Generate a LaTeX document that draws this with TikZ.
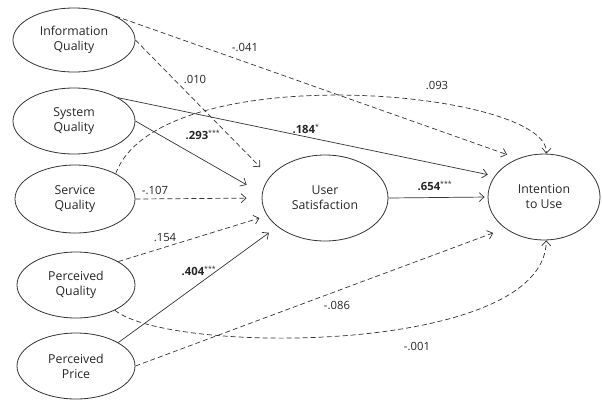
\documentclass[tikz,border=0pt]{standalone}
\usepackage{fontspec}
\setmainfont{Open Sans}
\usetikzlibrary{shapes.geometric,arrows.meta}
\definecolor{ln}{HTML}{333333}
\tikzset{
  latent/.style={ellipse,draw=ln,line width=0.8pt,inner sep=0pt,align=center,
    font=\fontsize{12.3}{15}\selectfont,text=black!85},
  path/.style={draw=ln,line width=0.7pt,-{Straight Barb[length=5pt,width=9pt]}},
  ns/.style={path,dash pattern=on 5pt off 3pt},
  coef/.style={font=\fontsize{11.3}{13}\selectfont,text=black!85,inner sep=1pt},
  bcoef/.style={coef,font=\fontsize{11.3}{13}\selectfont\bfseries}
}
\newcommand{\sig}[1]{\textsuperscript{\normalfont\fontsize{7}{8}\selectfont #1}}
\begin{document}
\begin{tikzpicture}[x=1pt,y=-1pt]
\useasboundingbox (0,0) rectangle (602,400);
% latent variables
\node[latent,minimum width=122pt,minimum height=64pt] (IQ) at (74,40) {Information\\Quality};
\node[latent,minimum width=122pt,minimum height=66pt] (SQ) at (74,121) {System\\Quality};
\node[latent,minimum width=120pt,minimum height=68pt] (SvQ) at (75,199) {Service\\Quality};
\node[latent,minimum width=118pt,minimum height=66pt] (PQ) at (76,285) {Perceived\\Quality};
\node[latent,minimum width=118pt,minimum height=66pt] (PP) at (76,366) {Perceived\\Price};
\node[latent,minimum width=126pt,minimum height=86pt] (US) at (325,198) {User\\Satisfaction};
\node[latent,minimum width=112pt,minimum height=86pt] (IU) at (544,197) {Intention\\to Use};
% paths
\draw[ns,shorten >=11.6pt] (IQ.30) -- (IU.124.4);
\draw[ns,shorten >=13.5pt] (IQ.east) -- (US.159.8);
\draw[path,shorten >=17.6pt] (SQ.east) -- (US.176);
\draw[path,shorten >=7pt] (SQ.28) -- (IU.157.2);
\draw[ns,shorten >=15pt] (SvQ.east) -- (US.west);
\draw[ns] (SvQ.32) .. controls (160,55) and (550,90) .. (IU.87);
\draw[path,shorten >=3pt] (US.east) -- (IU.west);
\draw[ns,shorten >=8pt] (PQ.29.7) -- (US.197.1);
\draw[path,shorten >=10.4pt] (PP.29.7) -- (US.211.9);
\draw[ns,shorten >=12.8pt] (PP.east) -- (IU.219.7);
\draw[ns] (PQ.-33) .. controls (170,355) and (545,355) .. (IU.-87);
% coefficients
\node[coef] (c1) at (245,47) {-.041};
\node[coef] (c2) at (195,79) {.010};
\node[coef] (c3) at (437,85) {.093};
\node[bcoef] (c4) at (203,135) {.293\sig{***}};
\node[bcoef] (c5) at (306,129) {.184\sig{*}};
\node[coef] (c6) at (155,190) {-.107};
\node[coef] (c7) at (165,238) {.154};
\node[bcoef] (c8) at (435,186) {.654\sig{***}};
\node[bcoef] (c9) at (199,271) {.404\sig{***}};
\node[coef] (c10) at (337,305) {-.086};
\node[coef] (c11) at (417,346) {-.001};
\end{tikzpicture}
\end{document}
